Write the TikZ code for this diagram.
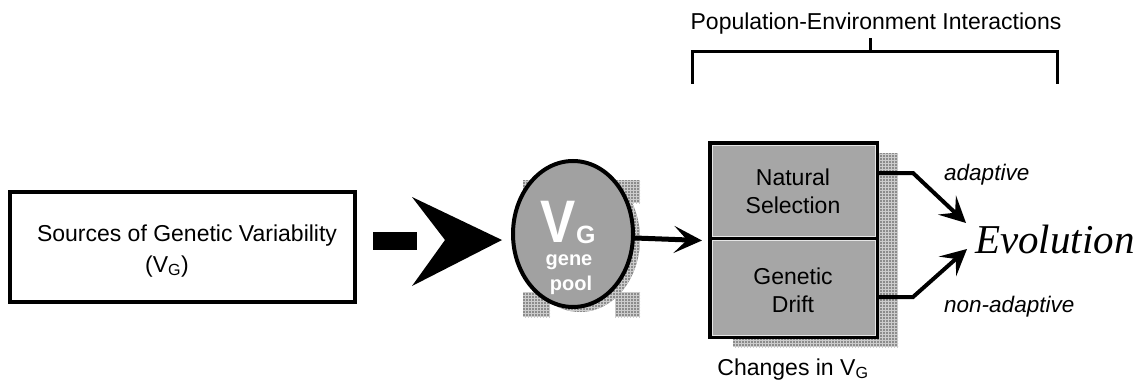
\documentclass[tikz,border=0pt]{standalone}
\usepackage{fontspec}
\setmainfont{Liberation Sans}
\newfontfamily\serifevo{Liberation Serif}
\usetikzlibrary{arrows.meta,shapes.geometric,patterns}
\tikzset{
  txt/.style={font=\fontsize{23}{26}\selectfont, inner sep=0pt},
  itxt/.style={font=\fontsize{22.5}{26}\selectfont\itshape, inner sep=0pt},
  shadefill/.style={fill=black!45, postaction={pattern=grid, pattern color=white!80!black}},
  half/.style={rectangle, draw=black, line width=4pt, fill=black!35, minimum width=167pt, inner sep=0pt},
  bevel/.style={draw=white!90!black, line width=1pt},
  conn/.style={line width=4pt},
  bighead/.style={-{Stealth[length=26pt,width=26pt,inset=11pt]}},
  pooltxt/.style={inner sep=0pt, anchor=base, text=white, font=\fontsize{20}{21}\selectfont\bfseries},
}
\begin{document}
\begin{tikzpicture}[x=1pt,y=-1pt]
\useasboundingbox (0,0) rectangle (1142,385);
% left source box
\node[rectangle, draw, line width=4pt, minimum width=345pt, minimum height=110pt, inner sep=0pt] (src) at (182.5,247) {};
\node[txt, anchor=base] (srct) at (187,241) {Sources of Genetic Variability};
\node[txt, anchor=base] (srcv) at (167,272) {(V\textsubscript{G})};
% big broken arrow
\fill (373,232) rectangle (417,250);
\fill (412,197) -- (502,240) -- (412,286) -- (445,240) -- cycle;
% gene pool handles and shadow
\fill[shadefill] (523,180) rectangle (550,203);
\fill[shadefill] (615,180) rectangle (640,203);
\fill[shadefill] (523,292) rectangle (550,317);
\fill[shadefill] (615,292) rectangle (640,317);
\fill[shadefill] (580,239) ellipse [x radius=60, y radius=73];
\node[ellipse, draw, line width=4pt, fill=black!37, minimum width=120pt, minimum height=146pt, inner sep=0pt] (vg) at (573,234) {};
\node[inner sep=0pt, anchor=base, text=white, font=\fontsize{60}{60}\selectfont\bfseries] (vgv) at (558,242) {\scalebox{0.88}[1]{V}};
\node[inner sep=0pt, anchor=base west, text=white, font=\fontsize{25}{25}\selectfont\bfseries] (vgg) at (576,243) {G};
\node[pooltxt] (vgg1) at (569,265) {gene};
\node[pooltxt] (vgg2) at (571,290) {pool};
% box shadow
\fill[shadefill] (877,153) rectangle (898,347);
\fill[shadefill] (733,337) rectangle (898,347);
% two halves
\node[half, minimum height=95pt] (ns) at (793.5,190.5) {};
\node[half, minimum height=99pt] (gd) at (793.5,287.5) {};
\draw[bevel] ([shift={(4pt,-4pt)}]ns.north west) rectangle ([shift={(-4pt,4pt)}]ns.south east);
\draw[bevel] ([shift={(4pt,-4pt)}]gd.north west) rectangle ([shift={(-4pt,4pt)}]gd.south east);
\node[txt, anchor=base] (ns1) at (793,185) {Natural};
\node[txt, anchor=base] (ns2) at (793,213) {Selection};
\node[txt, anchor=base] (gd1) at (793,284) {Genetic};
\node[txt, anchor=base] (gd2) at (793,312) {Drift};
\node[txt, anchor=base] (chg) at (793,375) {Changes in V\textsubscript{G}};
% arrow gene pool -> box
\draw[line width=5pt, -{Stealth[length=28pt,width=27pt,inset=13pt]}] ([yshift=-4pt]vg.east) -- ([xshift=-6pt,yshift=-0.5pt]ns.south west);
% bracket
\node[txt, anchor=base] (pei) at (876,30) {Population-Environment Interactions};
\coordinate (bl) at (692,83);
\coordinate (br) at (1057,83);
\coordinate (bc) at (870,52);
\draw[line width=3pt, line cap=rect] (bl) -- (692,52) -- (1057,52) -- (br);
\draw[line width=3pt] (bc) -- (870,38);
% evolution
\node[inner sep=0pt, anchor=base west, font=\fontsize{41}{41}\selectfont\serifevo\itshape] (evo) at (975,253) {Evolution};
\coordinate (tipA) at (966,223);
\coordinate (tipB) at (967,249);
\draw[conn, bighead] ([yshift=17.5pt]ns.east) -- (913,173) -- (tipA);
\draw[conn, bighead] ([yshift=-9.5pt]gd.east) -- (913,297) -- (tipB);
\node[itxt, anchor=base west] (ad) at (944,180) {adaptive};
\node[itxt, anchor=base west] (nad) at (944,312) {non-adaptive};
\end{tikzpicture}
\end{document}
